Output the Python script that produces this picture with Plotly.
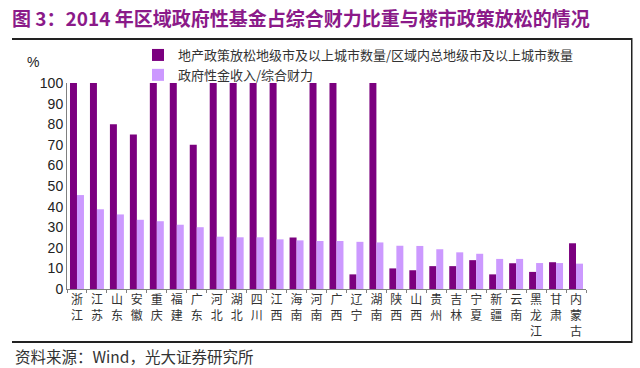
import plotly.graph_objects as go

provinces = ["浙江", "江苏", "山东", "安徽", "重庆", "福建", "广东", "河北", "湖北", "四川",
             "江西", "海南", "河南", "广西", "辽宁", "湖南", "陕西", "山西", "贵州", "吉林",
             "宁夏", "新疆", "云南", "黑龙江", "甘肃", "内蒙古"]
easing_share = [100, 100, 80, 75, 100, 100, 70, 100, 100, 100,
                100, 25, 100, 100, 7.1, 100, 10, 9.1, 11.1, 11.1,
                14.0, 7.1, 12.5, 8.3, 13.0, 22.2]
fund_share = [45.6, 38.7, 36.2, 33.6, 32.9, 31.2, 30.0, 25.4, 25.1, 25.1,
              24.1, 23.6, 23.3, 23.3, 22.9, 22.6, 21.0, 20.9, 19.3, 17.8,
              17.1, 14.6, 14.6, 12.6, 12.6, 12.3]
y_ticks = [0, 10, 20, 30, 40, 50, 60, 70, 80, 90, 100]

series1_name = "地产政策放松地级市及以上城市数量/区域内总地级市及以上城市数量"
series2_name = "政府性金收入/综合财力"
title_text = "图 3：2014 年区域政府性基金占综合财力比重与楼市政策放松的情况"
source_text = "资料来源：Wind，光大证券研究所"

labels = ["<br>".join(list(p)) for p in provinces]

CJK = "Noto Sans CJK SC"
fig = go.Figure()
fig.add_trace(go.Bar(x=labels, y=easing_share, name=series1_name,
                     marker=dict(color="#7B007F", line=dict(width=0))))
fig.add_trace(go.Bar(x=labels, y=fund_share, name=series2_name,
                     marker=dict(color="#CC99FF", line=dict(width=0))))

# plot area pixel geometry
L, R, T, B = 67, 54, 83, 79
W, H = 640, 368
pw, ph = W - L - R, H - T - B


def px(x):
    return (x - L) / pw


def py(y):
    return (H - B - y) / ph


fig.update_layout(
    width=W, height=H, autosize=False,
    margin=dict(l=L, r=R, t=T, b=B, autoexpand=False),
    paper_bgcolor="white", plot_bgcolor="white",
    barmode="group", bargap=0.3, bargroupgap=0.0,
    showlegend=True,
    legend=dict(x=px(138), y=py(40), xanchor="left", yanchor="top",
                font=dict(family=CJK, size=13, color="#333333"),
                bgcolor="rgba(0,0,0,0)", itemwidth=30, tracegroupgap=0,
                borderwidth=0),
    xaxis=dict(showline=True, linecolor="#808080", linewidth=1,
               ticks="outside", ticklen=3, tickcolor="#808080",
               tickson="boundaries", showgrid=False,
               tickfont=dict(family=CJK, size=12, color="#333333"),
               tickangle=0),
    yaxis=dict(range=[0, 100], tickvals=y_ticks, showline=True,
               linecolor="#808080", linewidth=1, showgrid=False,
               ticks="", zeroline=False,
               tickfont=dict(family="Liberation Sans, Arial", size=14, color="#222222")),
    font=dict(family=CJK),
)

frame_color = "#222222"
frame_top = dict(type="rect", xref="paper", yref="paper", x0=px(12), x1=px(632),
                 y0=py(40), y1=py(38), line=dict(width=0), fillcolor=frame_color)
frame_bottom = dict(type="rect", xref="paper", yref="paper", x0=px(12), x1=px(632),
                    y0=py(343), y1=py(341), line=dict(width=0), fillcolor=frame_color)
frame_right = dict(type="rect", xref="paper", yref="paper", x0=px(631), x1=px(632.5),
                   y0=py(343), y1=py(38), line=dict(width=0), fillcolor=frame_color)
fig.update_layout(shapes=[frame_top, frame_bottom, frame_right])

fig.add_annotation(text="<b>" + title_text + "</b>", xref="paper", yref="paper",
                   x=px(10), y=py(18), xanchor="left", yanchor="middle", showarrow=False,
                   font=dict(family=CJK, size=19, color="#8B1A89"))
fig.add_annotation(text="%", xref="paper", yref="paper",
                   x=px(33), y=py(62), xanchor="center", yanchor="middle", showarrow=False,
                   font=dict(family="Liberation Sans, Arial", size=14, color="#222222"))
fig.add_annotation(text=source_text, xref="paper", yref="paper",
                   x=px(13), y=py(356), xanchor="left", yanchor="middle", showarrow=False,
                   font=dict(family=CJK, size=15.5, color="#333333"))

fig.write_html("out.html", config={"displayModeBar": False},
               post_script="document.body.style.margin='0';document.body.style.overflow='hidden';")
